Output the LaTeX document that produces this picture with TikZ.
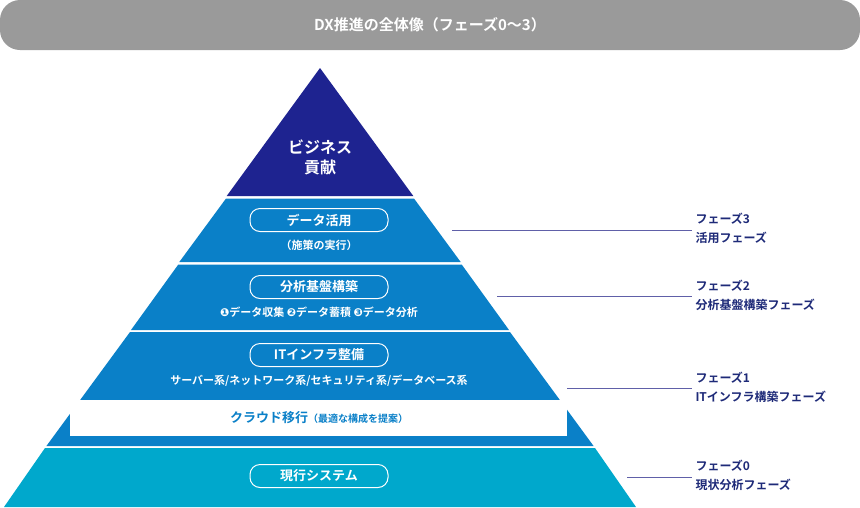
\documentclass[tikz,border=0pt]{standalone}
\usepackage{fontspec}
\newfontfamily\jp{Noto Sans CJK JP}[BoldFont={* Bold}]
\newfontfamily\dv{DejaVu Sans}
\definecolor{navy}{HTML}{1E2390}
\definecolor{midb}{HTML}{0A80C8}
\definecolor{cyanb}{HTML}{00A8CC}
\definecolor{ttl}{HTML}{9A9A9A}
\definecolor{lab}{HTML}{1E2A78}
\definecolor{ln}{HTML}{6060A8}
\tikzset{
 pill/.style={draw=white,line width=1pt,rounded corners=10pt,minimum width=138pt,minimum height=23pt,text=white,font=\jp\bfseries\fontsize{13}{14}\selectfont},
 wt/.style={text=white,font=\jp\bfseries\fontsize{11}{13}\selectfont},
 phase/.style={text=lab,anchor=west,align=left,font=\jp\bfseries\fontsize{12}{19}\selectfont},
 lead/.style={draw=ln,line width=0.8pt}
}
\begin{document}
\begin{tikzpicture}[x=1pt,y=-1pt]
\useasboundingbox (0,0) rectangle (860,507);
\fill[ttl,rounded corners=20pt] (0,0) rectangle (860,50);
\node[text=white,font=\jp\bfseries\fontsize{15}{16}\selectfont] (title) at (430,25) {DX推進の全体像（フェーズ0〜3）};
% pyramid bands: half width = 0.723*(y-68)
\fill[navy] (320,68) -- (413.3,196) -- (226.7,196) -- cycle;
\fill[midb] (226,198.5) -- (414,198.5) -- (460.7,262) -- (179.3,262) -- cycle;
\fill[midb] (178.3,264.5) -- (461.7,264.5) -- (509,330) -- (131,330) -- cycle;
\fill[midb] (130,332) -- (510,332) -- (593.6,446) -- (46.4,446) -- cycle;
\fill[cyanb] (45,448) -- (595,448) -- (636,507) -- (4,507) -- cycle;
\fill[white] (70,400) rectangle (567,436);
\node[text=white,font=\jp\bfseries\fontsize{16}{20}\selectfont,align=center] (biz) at (320,157) {ビジネス\\貢献};
\node[pill] (p3) at (319,220) {データ活用};
\node[wt] (s3) at (319,245) {（施策の実行）};
\node[pill] (p2) at (319,287) {分析基盤構築};
\node[wt] (s2) at (319,312) {{\dv ❶}データ収集 {\dv ❷}データ蓄積 {\dv ❸}データ分析};
\node[pill] (p1) at (319,355) {ITインフラ整備};
\node[wt] (s1) at (319,381) {サーバー系/ネットワーク系/セキュリティ系/データベース系};
\node[text=midb,font=\jp\bfseries\fontsize{13}{14}\selectfont] (cl) at (319,418) {クラウド移行{\fontsize{10}{12}\selectfont（最適な構成を提案）}};
\node[pill] (p0) at (319,476) {現行システム};
\node[phase] (f3) at (692,228) {フェーズ3\\活用フェーズ};
\node[phase] (f2) at (692,295) {フェーズ2\\分析基盤構築フェーズ};
\node[phase] (f1) at (692,387) {フェーズ1\\ITインフラ構築フェーズ};
\node[phase] (f0) at (692,475) {フェーズ0\\現状分析フェーズ};
\coordinate (c3) at (452,230); \coordinate (c2) at (497,296);
\coordinate (c1) at (567,388); \coordinate (c0) at (627,477);
\draw[lead] (c3) -- (c3 -| f3.west);
\draw[lead] (c2) -- (c2 -| f2.west);
\draw[lead] (c1) -- (c1 -| f1.west);
\draw[lead] (c0) -- (c0 -| f0.west);
\end{tikzpicture}
\end{document}
